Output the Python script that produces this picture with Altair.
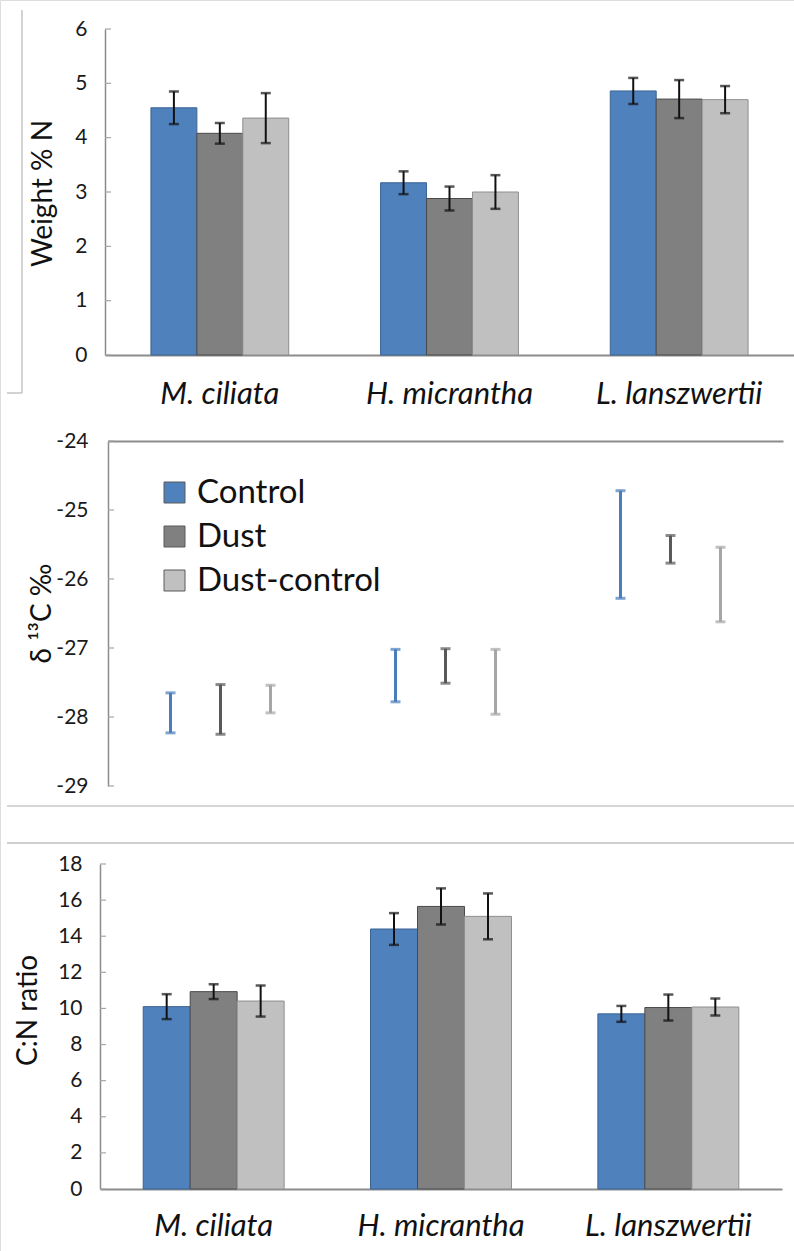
import altair as alt
import pandas as pd

FONT = "Lato"

species = ["M. ciliata", "H. micrantha", "L. lanszwertii"]
treatments = ["Control", "Dust", "Dust-control"]

# Leaf nitrogen, weight % N (mean and error per species x treatment)
n_mean = [[4.55, 4.08, 4.36], [3.17, 2.88, 3.00], [4.86, 4.71, 4.70]]
n_err = [[0.30, 0.19, 0.46], [0.21, 0.22, 0.31], [0.24, 0.35, 0.25]]

# delta 13C, per mil
c13_mean = [[-27.94, -27.89, -27.74], [-27.40, -27.26, -27.49], [-25.50, -25.57, -26.08]]
c13_err = [[0.29, 0.36, 0.20], [0.38, 0.25, 0.47], [0.78, 0.20, 0.54]]

# C:N ratio
cn_mean = [[10.10, 10.93, 10.41], [14.40, 15.65, 15.10], [9.70, 10.05, 10.08]]
cn_err = [[0.69, 0.41, 0.86], [0.88, 1.00, 1.27], [0.44, 0.72, 0.47]]

n_ticks = [0, 1, 2, 3, 4, 5, 6]
c13_ticks = [-29, -28, -27, -26, -25, -24]
cn_ticks = [0, 2, 4, 6, 8, 10, 12, 14, 16, 18]

fill_colors = ["#4F81BD", "#808080", "#C0C0C0"]
edge_colors = ["#3A6494", "#4A4A4A", "#8E8E8E"]
c13_colors = ["#4A7EBB", "#595959", "#A6A6A6"]

TICK_LABEL = 21
AXIS_TITLE = 28


def table(means, errs):
    rows = []
    for i, sp in enumerate(species):
        for j, tr in enumerate(treatments):
            m, e = means[i][j], errs[i][j]
            rows.append({"species": sp, "treatment": tr, "mean": m,
                         "lo": m - e, "hi": m + e})
    return pd.DataFrame(rows)


legend = alt.Legend(
    orient="none", legendX=158, legendY=476, title=None,
    symbolType="square", symbolSize=441, symbolStrokeColor="#5A5A5A",
    symbolStrokeWidth=1, labelFont=FONT, labelFontSize=33, labelColor="#111",
    labelOffset=6, labelLimit=400, rowPadding=10, padding=0,
)

fill_enc = alt.Fill("treatment:N", scale=alt.Scale(domain=treatments, range=fill_colors),
                    legend=legend)


def bar_panel(df, ticks, y_dom, y_rng, x_rng, p_in, p_out, axis_x, x_off, y_title,
              title_x, title_y, label_pad):
    x_enc = alt.X(
        "species:N", sort=species,
        scale=alt.Scale(domain=species, range=x_rng, paddingInner=p_in, paddingOuter=p_out),
        axis=alt.Axis(orient="bottom", offset=x_off, title=None, ticks=False,
                      labelFont=FONT, labelFontSize=31, labelFontStyle="italic",
                      labelColor="#111", labelPadding=label_pad, labelAngle=0,
                      domainColor="#8C8C8C", domainWidth=2, grid=False),
    )
    xo_enc = alt.XOffset("treatment:N", sort=treatments,
                         scale=alt.Scale(domain=treatments, paddingInner=0, paddingOuter=0))
    y_scale = alt.Scale(domain=y_dom, range=y_rng, nice=False, zero=False)
    y_enc = alt.Y(
        "mean:Q", scale=y_scale,
        axis=alt.Axis(orient="left", offset=-axis_x, values=ticks, ticks=False,
                      labelExpr="'' + datum.value",
                      labelFont=FONT, labelFontSize=TICK_LABEL, labelColor="#1a1a1a",
                      labelPadding=18, domainColor="#8C8C8C", domainWidth=1.5,
                      grid=False, title=y_title, titleFont=FONT, titleFontSize=AXIS_TITLE,
                      titleFontWeight="normal", titleColor="#111",
                      titleX=title_x, titleY=title_y, titleBaseline="middle"),
    )
    bars = alt.Chart(df).mark_bar(strokeWidth=1).encode(
        x=x_enc, xOffset=xo_enc, y=y_enc, fill=fill_enc,
        stroke=alt.Stroke("treatment:N", scale=alt.Scale(domain=treatments, range=edge_colors),
                          legend=None),
    )
    whisker = alt.Chart(df).mark_rule(color="#111", strokeWidth=2).encode(
        x=alt.X("species:N", sort=species), xOffset=alt.XOffset("treatment:N", sort=treatments),
        y="lo:Q", y2="hi:Q",
    )
    cap_hi = alt.Chart(df).mark_tick(color="#111", thickness=2.5, size=10).encode(
        x=alt.X("species:N", sort=species), xOffset=alt.XOffset("treatment:N", sort=treatments),
        y="hi:Q",
    )
    cap_lo = alt.Chart(df).mark_tick(color="#111", thickness=2.5, size=10).encode(
        x=alt.X("species:N", sort=species), xOffset=alt.XOffset("treatment:N", sort=treatments),
        y="lo:Q",
    )
    inner_ticks = alt.Chart(pd.DataFrame({"mean": ticks})).mark_rule(
        color="#A6A6A6", strokeWidth=1.2).encode(
        y="mean:Q", x=alt.value(axis_x), x2=alt.value(axis_x + 6),
    )
    return alt.layer(bars, whisker, cap_hi, cap_lo, inner_ticks)


weight_df = table(n_mean, n_err)
cn_df = table(cn_mean, cn_err)
c13_df = table(c13_mean, c13_err)

panel_n = bar_panel(weight_df, n_ticks, [0, 6], [355, 29], [105, 794], 0.4, 0.2,
                    105, 355 - 1251, "Weight % N", -62, 193, 24)
panel_cn = bar_panel(cn_df, cn_ticks, [0, 18], [1189, 864], [100, 782], 0.38, 0.19,
                     100, 1189 - 1251, "C:N ratio", -72, 1010, 22)

# delta 13C panel: error bars only, coloured by treatment
c13_x = alt.X(
    "species:N", sort=species,
    scale=alt.Scale(domain=species, range=[108, 783], paddingInner=1 / 3, paddingOuter=1 / 6),
    axis=alt.Axis(orient="top", offset=-441, labels=False, ticks=False, title=None,
                  domainColor="#8C8C8C", domainWidth=2, grid=False),
)
c13_xo = alt.XOffset("treatment:N", sort=treatments,
                     scale=alt.Scale(domain=treatments, paddingInner=0, paddingOuter=0))
c13_y = alt.Y(
    "lo:Q", scale=alt.Scale(domain=[-29, -24], range=[786, 441], nice=False, zero=False),
    axis=alt.Axis(orient="left", offset=-108, values=c13_ticks, ticks=False,
                  labelExpr="'' + datum.value",
                  labelFont=FONT, labelFontSize=TICK_LABEL, labelColor="#1a1a1a", labelPadding=20,
                  domainColor="#8C8C8C", domainWidth=1.5, grid=False,
                  title="δ ¹³C ‰", titleFont=FONT, titleFontSize=AXIS_TITLE,
                  titleFontWeight="normal",
                  titleColor="#111", titleX=-66, titleY=613, titleBaseline="middle"),
)
c13_stroke = alt.Stroke("treatment:N", scale=alt.Scale(domain=treatments, range=c13_colors),
                        legend=None)
c13_rule = alt.Chart(c13_df).mark_rule(strokeWidth=3).encode(
    x=c13_x, xOffset=c13_xo, y=c13_y, y2="hi:Q", stroke=c13_stroke,
)
c13_cap_hi = alt.Chart(c13_df).mark_tick(thickness=3, size=10).encode(
    x=alt.X("species:N", sort=species), xOffset=alt.XOffset("treatment:N", sort=treatments),
    y="hi:Q", color=alt.Color("treatment:N", scale=alt.Scale(domain=treatments, range=c13_colors),
                              legend=None),
)
c13_cap_lo = alt.Chart(c13_df).mark_tick(thickness=3, size=10).encode(
    x=alt.X("species:N", sort=species), xOffset=alt.XOffset("treatment:N", sort=treatments),
    y="lo:Q", color=alt.Color("treatment:N", scale=alt.Scale(domain=treatments, range=c13_colors),
                              legend=None),
)
c13_inner = alt.Chart(pd.DataFrame({"lo": c13_ticks})).mark_rule(
    color="#A6A6A6", strokeWidth=1.2).encode(
    y="lo:Q", x=alt.value(108), x2=alt.value(114),
)
panel_c13 = alt.layer(c13_rule, c13_cap_hi, c13_cap_lo, c13_inner)

# thin frame lines separating the three figure parts
frame_df = pd.DataFrame({"k": [0]})
frame = alt.layer(
    alt.Chart(frame_df).mark_rule(color="#C4C4C4", strokeWidth=1.5).encode(
        x=alt.value(22), y=alt.value(10), y2=alt.value(393)),
    alt.Chart(frame_df).mark_rule(color="#C4C4C4", strokeWidth=1.5).encode(
        x=alt.value(7), x2=alt.value(22), y=alt.value(393)),
    alt.Chart(frame_df).mark_rule(color="#D6D6D6", strokeWidth=2).encode(
        x=alt.value(7), x2=alt.value(794), y=alt.value(806)),
    alt.Chart(frame_df).mark_rule(color="#CFCFCF", strokeWidth=2).encode(
        x=alt.value(7), x2=alt.value(794), y=alt.value(843)),
)

chart = alt.layer(frame, panel_n, panel_c13, panel_cn).resolve_scale(
    x="independent", y="independent", xOffset="independent",
    stroke="independent", color="independent",
).properties(
    width=794, height=1251, padding=0,
    autosize=alt.AutoSizeParams(type="none"),
).configure_view(stroke=None).configure(background="white", font=FONT)

chart.save("out.html", embed_options={"renderer": "svg", "actions": False})
